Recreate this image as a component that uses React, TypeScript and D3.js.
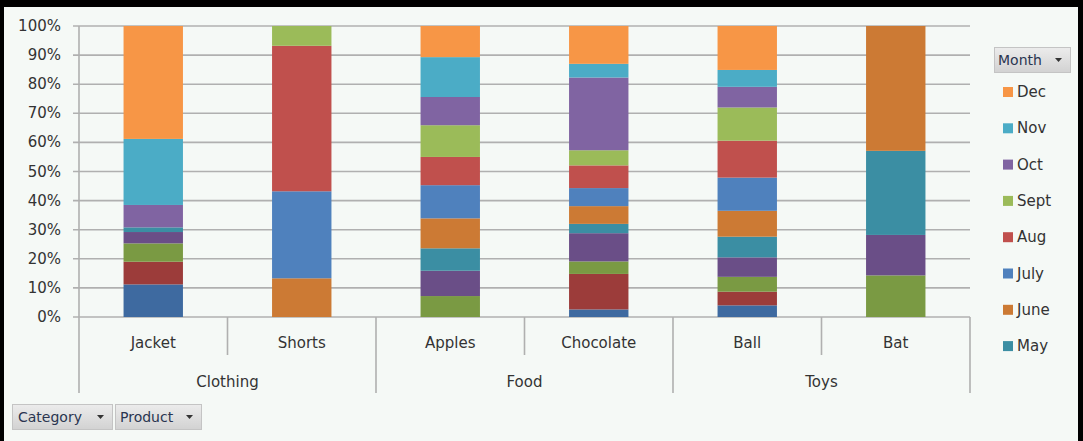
import React from "react";
import * as d3 from "d3";

const categories = ["Clothing", "Food", "Toys"];
const products = ["Jacket", "Shorts", "Apples", "Chocolate", "Ball", "Bat"];
const productCategory = ["Clothing", "Clothing", "Food", "Food", "Toys", "Toys"];
const months = ["Jan", "Feb", "Mar", "Apr", "May", "June", "July", "Aug", "Sept", "Oct", "Nov", "Dec"];
const monthColors = ["#3e6aa0", "#9c3c3a", "#7a9a43", "#6a4e87", "#3b8ea3", "#cc7a34", "#4f81bd", "#c0504d", "#9bbb59", "#8064a2", "#4bacc6", "#f79646"];

// values per product, Jan..Dec
const jacket = [11.2, 7.8, 6.3, 3.9, 1.6, 0, 0, 0, 0, 7.7, 22.7, 38.8];
const shorts = [0, 0, 0, 0, 0, 13.3, 29.9, 50.0, 6.8, 0, 0, 0];
const apples = [0, 0, 7.2, 8.7, 7.7, 10.3, 11.4, 9.7, 10.9, 9.7, 13.7, 10.7];
const chocolate = [2.6, 12.2, 4.3, 9.7, 3.2, 6.1, 6.2, 7.8, 5.2, 25.0, 4.7, 13.0];
const ball = [4.0, 4.7, 5.1, 6.7, 7.1, 8.9, 11.4, 12.7, 11.4, 7.1, 5.8, 15.1];
const bat = [0, 0, 14.3, 13.9, 28.9, 42.9, 0, 0, 0, 0, 0, 0];
const productValues = [jacket, shorts, apples, chocolate, ball, bat];

const yTicks = [0, 0.1, 0.2, 0.3, 0.4, 0.5, 0.6, 0.7, 0.8, 0.9, 1];
const legendMonths = ["Dec", "Nov", "Oct", "Sept", "Aug", "July", "June", "May"];

const W = 1083;
const H = 441;
const FONT = "'DejaVu Sans', Verdana, sans-serif";
const TEXT = "#333333";

export default function App() {
  const left = 79, right = 970, top = 26, bottom = 317;
  const x = d3.scaleBand<string>().domain(products).range([left, right]).paddingInner(0).paddingOuter(0);
  const y = d3.scaleLinear().domain([0, 1]).range([bottom, top]);
  const color = d3.scaleOrdinal<string, string>().domain(months).range(monthColors);

  const table = products.map((p, i) => {
    const row: any = { product: p };
    months.forEach((m, j) => (row[m] = productValues[i][j]));
    return row;
  });
  const series = d3.stack<any>().keys(months).offset(d3.stackOffsetExpand)(table);
  const barW = x.bandwidth() * 0.4;

  const catScale = d3.scaleBand<string>().domain(categories).range([left, right]);

  const btnGrad = "btnGrad";

  return (
    <div style={{ position: "fixed", left: 0, top: 0 }}>
      <svg width={W} height={H} style={{ display: "block" }}>
        <defs>
          <linearGradient id={btnGrad} x1="0" y1="0" x2="0" y2="1">
            <stop offset="0" stopColor="#ececec" />
            <stop offset="1" stopColor="#d2d2d2" />
          </linearGradient>
        </defs>
        <rect x={0} y={0} width={W} height={H} fill="#000" />
        <rect x={4} y={7} width={1074} height={H - 7} fill="#f5f9f6" />

        {/* gridlines */}
        {yTicks.map((t) => (
          <line key={t} x1={73} x2={right} y1={y(t)} y2={y(t)} stroke="#b0b0b0" strokeWidth={1.6} />
        ))}
        {/* y axis */}
        <line x1={left} x2={left} y1={top} y2={393} stroke="#b0b0b0" strokeWidth={1.6} />
        {yTicks.map((t) => (
          <text key={"l" + t} x={61} y={y(t) + 5} textAnchor="end" fontFamily={FONT} fontSize={15} fill={TEXT}>
            {d3.format(".0%")(t)}
          </text>
        ))}

        {/* bars */}
        {series.map((s) => (
          <g key={s.key} fill={color(s.key)}>
            {s.map((d, i) =>
              d[1] - d[0] > 0 ? (
                <rect
                  key={i}
                  x={(x(products[i]) as number) + (x.bandwidth() - barW) / 2}
                  y={y(d[1])}
                  width={barW}
                  height={y(d[0]) - y(d[1])}
                />
              ) : null
            )}
          </g>
        ))}

        {/* product dividers */}
        {products.map((p, i) => {
          const isGroupStart = i === 0 || productCategory[i] !== productCategory[i - 1];
          const xx = x(p) as number;
          return isGroupStart ? null : (
            <line key={"d" + p} x1={xx} x2={xx} y1={bottom} y2={355} stroke="#b0b0b0" strokeWidth={1.6} />
          );
        })}
        {categories.map((c) => {
          const xx = (catScale(c) as number) + catScale.bandwidth();
          return <line key={"c" + c} x1={xx} x2={xx} y1={bottom} y2={393} stroke="#b0b0b0" strokeWidth={1.6} />;
        })}
        {products.map((p) => (
          <text key={"p" + p} x={(x(p) as number) + x.bandwidth() / 2} y={348} textAnchor="middle" fontFamily={FONT} fontSize={15} fill={TEXT}>
            {p}
          </text>
        ))}
        {categories.map((c) => (
          <text key={"t" + c} x={(catScale(c) as number) + catScale.bandwidth() / 2} y={387} textAnchor="middle" fontFamily={FONT} fontSize={15} fill={TEXT}>
            {c}
          </text>
        ))}

        {/* field buttons */}
        <rect x={12.5} y={404.5} width={100} height={25} fill={`url(#${btnGrad})`} stroke="#c4c4c4" />
        <text x={18} y={422} fontFamily={FONT} fontSize={14} fill="#2a3550">Category</text>
        <path d="M97,415 l7,0 l-3.5,4 z" fill="#333" />
        <rect x={115.5} y={404.5} width={86} height={25} fill={`url(#${btnGrad})`} stroke="#c4c4c4" />
        <text x={120} y={422} fontFamily={FONT} fontSize={14} fill="#2a3550">Product</text>
        <path d="M186,415 l7,0 l-3.5,4 z" fill="#333" />

        <rect x={994.5} y={47.5} width={76} height={25} fill={`url(#${btnGrad})`} stroke="#c4c4c4" />
        <text x={998} y={65} fontFamily={FONT} fontSize={14} fill="#2a3550">Month</text>
        <path d="M1055,58 l7,0 l-3.5,4 z" fill="#333" />

        {/* legend */}
        {legendMonths.map((m, i) => {
          const cy = 92 + i * 36.3;
          return (
            <g key={"lg" + m}>
              <rect x={1003} y={cy - 5} width={10} height={10} fill={color(m)} />
              <text x={1017} y={cy + 5} fontFamily={FONT} fontSize={15} fill={TEXT}>
                {m}
              </text>
            </g>
          );
        })}
      </svg>
    </div>
  );
}
